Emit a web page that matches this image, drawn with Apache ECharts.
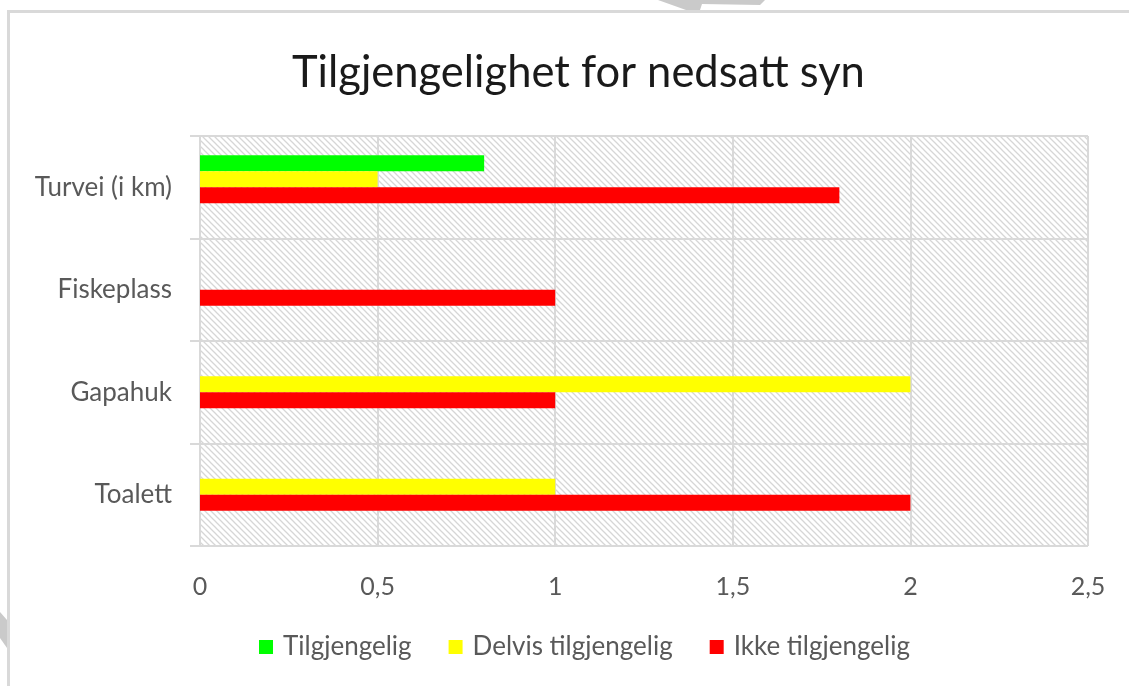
<!DOCTYPE html>
<html>
<head>
<meta charset="utf-8">
<title>Tilgjengelighet for nedsatt syn</title>
<script src="https://cdn.jsdelivr.net/npm/echarts@6/dist/echarts.min.js"></script>
<style>
  html, body { margin: 0; padding: 0; background: #fff; }
  #chart { width: 1129px; height: 686px; }
</style>
</head>
<body>
<div id="chart"></div>
<script>
// categories top to bottom (y axis is inverted)
var categories = ["Turvei (i km)", "Fiskeplass", "Gapahuk", "Toalett"];
var seriesNames = ["Tilgjengelig", "Delvis tilgjengelig", "Ikke tilgjengelig"];
var tilgjengelig = [0.8, null, null, null];
var delvis = [0.5, null, 2, 1];
var ikke = [1.8, 1, 1, 2];
var xTicks = [0, 0.5, 1, 1.5, 2, 2.5];

// hatched plot background like the excel pattern fill
function hatch() {
  var c = document.createElement("canvas");
  c.width = 6;
  c.height = 6;
  var ctx = c.getContext("2d");
  ctx.fillStyle = "#fff";
  ctx.fillRect(0, 0, 6, 6);
  ctx.strokeStyle = "#d6d6d6";
  ctx.lineWidth = 1.3;
  ctx.beginPath();
  ctx.moveTo(-1, -1); ctx.lineTo(7, 7);
  ctx.moveTo(-1, 5); ctx.lineTo(1, 7);
  ctx.moveTo(5, -1); ctx.lineTo(7, 1);
  ctx.stroke();
  return c;
}

var myChart = echarts.init(document.getElementById("chart"));
var gridCol = "#d9d9d9";
var font = "Lato, 'Open Sans', sans-serif";

function bar(name, data, color) {
  return {
    name: name,
    type: "bar",
    data: data,
    barWidth: 16,
    barGap: "0%",
    itemStyle: { color: color },
    animation: false
  };
}

var option = {
  backgroundColor: "#fff",
  title: {
    text: "Tilgjengelighet for nedsatt syn",
    left: 287,
    top: 46,
    textStyle: { fontFamily: font, fontSize: 43.5, fontWeight: "normal", color: "#1a1a1a" }
  },
  legend: {
    data: seriesNames,
    top: 629,
    left: 254,
    itemWidth: 14,
    itemHeight: 14,
    itemGap: 37,
    icon: "rect",
    textStyle: { fontFamily: font, fontSize: 26, color: "#595959", padding: [0, 0, 0, 5] }
  },
  graphic: [
    {
      // frame of the pasted excel picture
      type: "polyline",
      shape: { points: [[8.5, 700], [8.5, 11.5], [1140, 11.5]] },
      style: { stroke: "#d9d9d9", lineWidth: 3, fill: null },
      silent: true
    },
    {
      type: "polygon",
      shape: { points: [[658, 0], [765, 0], [760, 5], [702, 4], [700, 10], [686, 10]] },
      style: { fill: "#cacaca" },
      silent: true
    },
    {
      type: "polygon",
      shape: { points: [[0, 612], [7, 620], [7, 648], [0, 638]] },
      style: { fill: "#cacaca" },
      silent: true
    }
  ],
  grid: {
    left: 200,
    right: 41,
    top: 136,
    bottom: 140,
    show: true,
    borderWidth: 0,
    backgroundColor: { image: hatch(), repeat: "repeat" }
  },
  xAxis: {
    type: "value",
    min: xTicks[0],
    max: xTicks[xTicks.length - 1],
    interval: 0.5,
    axisLine: { show: false },
    axisTick: { show: false },
    axisLabel: {
      margin: 28,
      fontFamily: font,
      fontSize: 25,
      color: "#595959",
      formatter: function (v) { return String(v).replace(".", ","); }
    },
    splitLine: { show: true, lineStyle: { color: gridCol, width: 2 } }
  },
  yAxis: {
    type: "category",
    inverse: true,
    data: categories,
    axisLine: { show: true, lineStyle: { color: gridCol, width: 2 } },
    axisTick: { show: true, length: 10, lineStyle: { color: gridCol, width: 2 } },
    axisLabel: { margin: 28, fontFamily: font, fontSize: 26, color: "#595959" },
    splitLine: { show: true, lineStyle: { color: gridCol, width: 2 } }
  },
  series: [
    bar(seriesNames[0], tilgjengelig, "#00ff00"),
    bar(seriesNames[1], delvis, "#ffff00"),
    bar(seriesNames[2], ikke, "#ff0000"),
    // empty fourth slot, excel leaves room for it under the red bar
    bar("", [null, null, null, null], "transparent")
  ]
};

myChart.setOption(option);
window.addEventListener("resize", function () {
  myChart.resize();
});
</script>
</body>
</html>
